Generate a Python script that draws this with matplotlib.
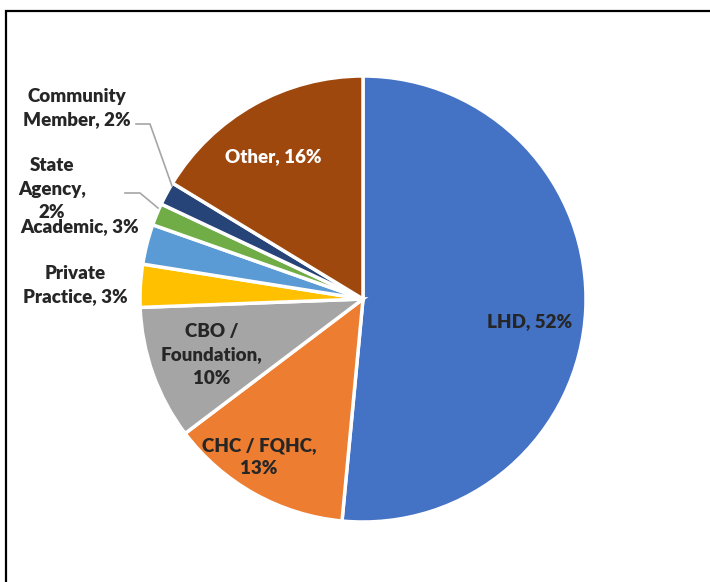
import matplotlib.pyplot as plt
from matplotlib.patches import Rectangle

labels = ['LHD, 52%', 'CHC / FQHC,\n13%', 'CBO /\nFoundation,\n10%', 'Private\nPractice, 3%',
          'Academic, 3%', 'State\nAgency,\n2%', 'Community\nMember, 2%', 'Other, 16%']
shares = [51.5, 13.2, 9.7, 3.1, 2.9, 1.6, 1.7, 16.3]
colors = ['#4472C4', '#ED7D31', '#A5A5A5', '#FFC000', '#5B9BD5', '#70AD47', '#264478', '#9E480E']

W, H = 710, 582
# label centres in image pixels (x, y from top)
label_pos = [(530, 322), (259, 457), (212, 355), (75, 285), (80, 227), (52, 189), (77, 108), (273, 157)]
label_col = ['#262626'] * 7 + ['white']

fig = plt.figure(figsize=(W / 100, H / 100), dpi=100)
ax = fig.add_axes([0, 0, 1, 1])

cx, cy, r = 363, H - 299, 223
ax.pie(shares, colors=colors, startangle=90, counterclock=False, center=(cx, cy), radius=r,
       wedgeprops=dict(edgecolor='white', linewidth=2.5), frame=True)
ax.set_xlim(0, W)
ax.set_ylim(0, H)
ax.set_aspect('equal')
ax.axis('off')

for txt, (x, y), c in zip(labels, label_pos, label_col):
    ax.text(x, H - y, txt, ha='center', va='center', color=c, fontsize=13.5,
            fontweight='heavy', family='Lato', linespacing=1.45)

# leader lines
ax.plot([136, 150, 172], [H - 124, H - 124, H - 186], color='#A6A6A6', lw=1.2)
ax.plot([125, 140, 158], [H - 193, H - 193, H - 208], color='#A6A6A6', lw=1.2)

# chart border
fig.patches.append(Rectangle((6 / W, -0.1), 1.2, 1 - 11 / H + 0.1, transform=fig.transFigure,
                             fill=False, edgecolor='black', lw=1.6))

fig.savefig('out.png', dpi=100)
